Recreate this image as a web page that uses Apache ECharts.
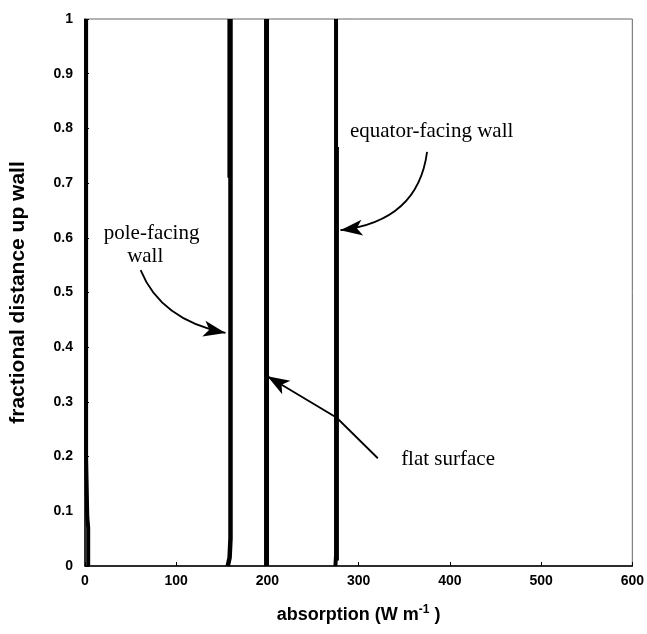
<!DOCTYPE html>
<html>
<head>
<meta charset="utf-8">
<script src="https://cdn.jsdelivr.net/npm/echarts@6/dist/echarts.min.js"></script>
<style>
  html, body { margin: 0; padding: 0; background: #fff; }
  #chart { width: 647px; height: 634px; }
</style>
</head>
<body>
<div id="chart"></div>
<script>
// axis ticks
var xTicks = [0, 100, 200, 300, 400, 500, 600]
var yTicks = [0, 0.1, 0.2, 0.3, 0.4, 0.5, 0.6, 0.7, 0.8, 0.9, 1]

// absorption profiles (x = absorption, y = fractional height)
var nearZeroX = [3.5, 3.5, 2.5, 1.2, 1.2]
var nearZeroY = [0, 0.07, 0.09, 0.2, 1]

var poleX = [156.5, 158.5, 159.5, 159.5, 159.5]
var poleY = [0, 0.015, 0.05, 0.5, 1]
var poleUpperX = [158.3, 158.3]
var poleUpperY = [0.71, 1]

var flatX = [199, 199]
var flatY = [0, 1]

var equatorX = [274.5, 275.2, 275.2]
var equatorY = [0, 0.02, 1]
var equatorLowerX = [277, 277]
var equatorLowerY = [0.01, 0.766]

function pairs (xs, ys) {
  var out = []
  for (var i = 0; i < xs.length; i++) out.push([xs[i], ys[i]])
  return out
}

function profile (xs, ys, width) {
  return {
    type: 'line',
    data: pairs(xs, ys),
    showSymbol: false,
    clip: false,
    silent: true,
    lineStyle: { color: '#000', width: width }
  }
}

var chart = echarts.init(document.getElementById('chart'))

var tickFont = { color: '#000', fontSize: 14, fontWeight: 'bold', fontFamily: 'Liberation Sans, Arial, sans-serif' }

chart.setOption({
  animation: false,
  backgroundColor: '#fff',
  grid: {
    left: 84, right: 14, top: 19, bottom: 68,
    show: true, borderColor: '#666', borderWidth: 1
  },
  xAxis: {
    type: 'value',
    min: 0, max: 600, interval: 100,
    name: 'absorption (W m{sup|-1} )',
    nameLocation: 'middle',
    nameGap: 38,
    nameTextStyle: {
      color: '#000', fontSize: 18, fontWeight: 'bold', fontFamily: 'Liberation Sans, Arial, sans-serif',
      rich: { sup: { fontSize: 12, fontWeight: 'bold', verticalAlign: 'top', padding: [0, 0, 10, 0], color: '#000' } }
    },
    axisLine: { onZero: false, lineStyle: { color: '#000', width: 1.5 } },
    axisTick: { inside: true, length: 4, lineStyle: { color: '#000' } },
    axisLabel: Object.assign({ margin: 8, formatter: function (v) { return xTicks.indexOf(v) >= 0 ? String(v) : '' } }, tickFont),
    splitLine: { show: false }
  },
  yAxis: {
    type: 'value',
    min: 0, max: 1, interval: 0.1,
    name: 'fractional distance up wall',
    nameLocation: 'middle',
    nameGap: 56,
    nameTextStyle: { color: '#000', fontSize: 21, fontWeight: 'bold', fontFamily: 'Liberation Sans, Arial, sans-serif' },
    axisLine: { onZero: false, lineStyle: { color: '#000', width: 1.5 } },
    axisTick: { inside: true, length: 4, lineStyle: { color: '#000' } },
    axisLabel: Object.assign({ margin: 12, formatter: function (v) {
      var t = yTicks.filter(function (k) { return Math.abs(k - v) < 1e-9 })
      return t.length ? String(Math.round(t[0] * 10) / 10) : ''
    } }, tickFont),
    splitLine: { show: false }
  },
  series: [
    profile(nearZeroX, nearZeroY, 4),
    profile(poleX, poleY, 4.5),
    profile(poleUpperX, poleUpperY, 4),
    profile(flatX, flatY, 5),
    profile(equatorX, equatorY, 4),
    profile(equatorLowerX, equatorLowerY, 2.5)
  ]
})

// annotations, placed in data coordinates
var notes = [
  { text: 'pole-facing', at: [73, 0.608] },
  { text: 'wall', at: [66, 0.565] },
  { text: 'equator-facing wall', at: [380, 0.795] },
  { text: 'flat surface', at: [398, 0.194] }
]
var arrows = [
  { pts: [[61, 0.541], [83, 0.45], [154, 0.426]], curve: true },
  { pts: [[375, 0.757], [365, 0.63], [280, 0.614]], curve: true },
  { pts: [[321, 0.197], [276, 0.271], [200, 0.347]], curve: false }
]

function px (p) { return chart.convertToPixel({ gridIndex: 0 }, p) }

var gfx = []
notes.forEach(function (n) {
  var p = px(n.at)
  gfx.push({
    type: 'text', x: p[0], y: p[1], silent: true,
    style: { text: n.text, fill: '#000', font: '21px "Liberation Serif", "Times New Roman", serif', align: 'center', verticalAlign: 'middle' }
  })
})
arrows.forEach(function (a) {
  var p = a.pts.map(px)
  if (a.curve) {
    gfx.push({ type: 'bezierCurve', silent: true,
      shape: { x1: p[0][0], y1: p[0][1], cpx1: p[1][0], cpy1: p[1][1], x2: p[2][0], y2: p[2][1] },
      style: { stroke: '#000', lineWidth: 1.8, fill: null } })
  } else {
    gfx.push({ type: 'polyline', silent: true, shape: { points: p },
      style: { stroke: '#000', lineWidth: 1.8, fill: null } })
  }
  // arrow head
  var tip = p[2], from = p[1]
  var ang = Math.atan2(tip[1] - from[1], tip[0] - from[0])
  var len = 22, half = 8
  var bx = tip[0] - len * Math.cos(ang), by = tip[1] - len * Math.sin(ang)
  gfx.push({ type: 'polygon', silent: true,
    shape: { points: [tip,
      [bx + half * Math.sin(ang), by - half * Math.cos(ang)],
      [tip[0] - len * 0.75 * Math.cos(ang), tip[1] - len * 0.75 * Math.sin(ang)],
      [bx - half * Math.sin(ang), by + half * Math.cos(ang)]] },
    style: { fill: '#000' } })
})
chart.setOption({ graphic: gfx })
</script>
</body>
</html>
